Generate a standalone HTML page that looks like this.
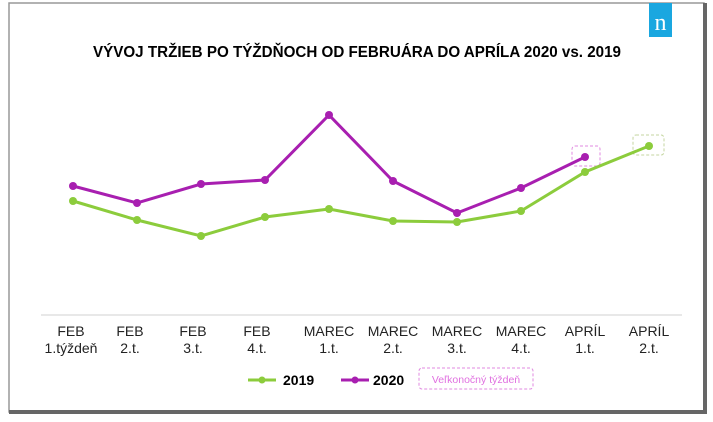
<!DOCTYPE html>
<html><head><meta charset="utf-8"><style>
body{margin:0;background:#fff;width:713px;height:422px;overflow:hidden;font-family:"Liberation Sans",sans-serif}
</style></head><body>
<svg width="713" height="422" xmlns="http://www.w3.org/2000/svg" style="position:absolute;left:0;top:0">
<rect x="9" y="3" width="695" height="409" fill="#fff" stroke="#999" stroke-width="1.5"/>
<line x1="9" y1="412" x2="706" y2="412" stroke="#666" stroke-width="4"/>
<line x1="705" y1="3" x2="705" y2="414" stroke="#666" stroke-width="4"/>
<rect x="649" y="3" width="23" height="34" fill="#1aa7e0"/>
<text x="660.5" y="30" font-family="Liberation Serif,serif" font-size="24" fill="#fff" text-anchor="middle">n</text>
<text x="357" y="57" font-size="15.5" font-weight="bold" text-anchor="middle" textLength="528" lengthAdjust="spacingAndGlyphs">VÝVOJ TRŽIEB PO TÝŽDŇOCH OD FEBRUÁRA DO APRÍLA 2020 vs. 2019</text>
<line x1="41" y1="315" x2="682" y2="315" stroke="#e0e0e0" stroke-width="1.5"/>
<rect x="572" y="146" width="28" height="20" rx="3" fill="none" stroke="#e08ae0" stroke-dasharray="3,2"/>
<rect x="633" y="135" width="31" height="20" rx="3" fill="none" stroke="#c4d6a0" stroke-dasharray="3,2"/>
<polyline fill="none" stroke="#8ccc3c" stroke-width="3" points="73,201 137,220 201,236 265,217 329,209 393,221 457,222 521,211 585,172 649,146"/>
<g fill="#8ccc3c"><circle cx="73" cy="201" r="4"/><circle cx="137" cy="220" r="4"/><circle cx="201" cy="236" r="4"/><circle cx="265" cy="217" r="4"/><circle cx="329" cy="209" r="4"/><circle cx="393" cy="221" r="4"/><circle cx="457" cy="222" r="4"/><circle cx="521" cy="211" r="4"/><circle cx="585" cy="172" r="4"/><circle cx="649" cy="146" r="4"/></g>
<polyline fill="none" stroke="#a81fb0" stroke-width="3" points="73,186 137,203 201,184 265,180 329,115 393,181 457,213 521,188 585,157"/>
<g fill="#a81fb0"><circle cx="73" cy="186" r="4"/><circle cx="137" cy="203" r="4"/><circle cx="201" cy="184" r="4"/><circle cx="265" cy="180" r="4"/><circle cx="329" cy="115" r="4"/><circle cx="393" cy="181" r="4"/><circle cx="457" cy="213" r="4"/><circle cx="521" cy="188" r="4"/><circle cx="585" cy="157" r="4"/></g>
<g font-size="14" fill="#222" text-anchor="middle">
<text x="71" y="336">FEB</text><text x="71" y="353">1.týždeň</text>
<text x="130" y="336">FEB</text><text x="130" y="353">2.t.</text>
<text x="193" y="336">FEB</text><text x="193" y="353">3.t.</text>
<text x="257" y="336">FEB</text><text x="257" y="353">4.t.</text>
<text x="329" y="336">MAREC</text><text x="329" y="353">1.t.</text>
<text x="393" y="336">MAREC</text><text x="393" y="353">2.t.</text>
<text x="457" y="336">MAREC</text><text x="457" y="353">3.t.</text>
<text x="521" y="336">MAREC</text><text x="521" y="353">4.t.</text>
<text x="585" y="336">APRÍL</text><text x="585" y="353">1.t.</text>
<text x="649" y="336">APRÍL</text><text x="649" y="353">2.t.</text>
</g>
<line x1="248" y1="380" x2="276" y2="380" stroke="#8ccc3c" stroke-width="3"/><circle cx="262" cy="380" r="3.5" fill="#8ccc3c"/>
<text x="283" y="385" font-size="14" font-weight="bold">2019</text>
<line x1="341" y1="380" x2="369" y2="380" stroke="#a81fb0" stroke-width="3"/><circle cx="355" cy="380" r="3.5" fill="#a81fb0"/>
<text x="373" y="385" font-size="14" font-weight="bold">2020</text>
<rect x="419" y="368" width="114" height="21" rx="3" fill="none" stroke="#e08ae0" stroke-dasharray="3,2"/>
<text x="476" y="383" font-size="10.5" fill="#e070e0" text-anchor="middle">Veľkonočný týždeň</text>
</svg>
</body></html>
